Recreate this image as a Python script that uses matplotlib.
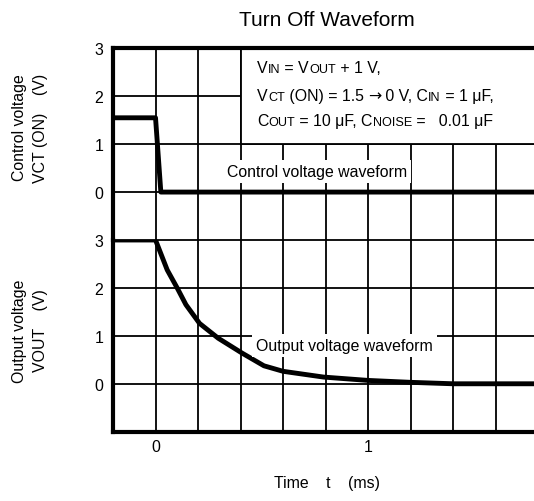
import numpy as np
import matplotlib
matplotlib.use('Agg')
import matplotlib.pyplot as plt
from matplotlib.patches import Rectangle
from matplotlib.offsetbox import TextArea, HPacker, AnnotationBbox

plt.rcParams['font.family'] = ['Liberation Sans', 'DejaVu Sans']

# control voltage step (ms, V)
ct_t = [-0.2, 0.0, 0.025, 2.0]
ct_v = [1.55, 1.55, 0.0, 0.0]

# output voltage discharge (ms, V)
vout_t = [-0.2, 0.0, 0.055, 0.103, 0.143, 0.207, 0.295, 0.407, 0.51, 0.6,
          0.79, 1.0, 1.2, 1.4, 2.0]
vout_v = [3.0, 3.0, 2.375, 1.99, 1.65, 1.26, 0.95, 0.64, 0.375, 0.26,
          0.14, 0.07, 0.03, 0.0, 0.0]

xgrid = [-0.2, 0.0, 0.2, 0.4, 0.6, 0.8, 1.0, 1.2, 1.4, 1.6]
xlabels = ['', '0', '', '', '', '', '1', '', '', '']
ygrid = [-1, 0, 1, 2, 3]
ylabels = ['', '0', '1', '2', '3']

# test conditions, pieces tagged: 'n' normal, 's' small subscript, 'a' arrow
cond_rows = [
    [('V', 'n'), ('IN', 's'), (' = V', 'n'), ('OUT', 's'), (' + 1 V,', 'n')],
    [('V', 'n'), ('CT', 's'), (' (ON) = 1.5 ', 'n'), ('→', 'a'), (' 0 V, C', 'n'),
     ('IN', 's'), (' = 1 μF,', 'n')],
    [('C', 'n'), ('OUT', 's'), (' = 10 μF, C', 'n'), ('NOISE', 's'),
     (' =   0.01 μF', 'n')],
]
cond_y = [2.6, 2.02, 1.5]

fs = 11.4
W, H = 534, 502
left = 113 / W
ytop, ymid, ybot = 1 - 49.3 / H, 1 - 241 / H, 1 - 432.7 / H

fig = plt.figure(figsize=(W / 100, H / 100), dpi=100)
ax1 = fig.add_axes([left, ymid, 1 - left, ytop - ymid])
ax2 = fig.add_axes([left, ybot, 1 - left, ymid - ybot])

for ax in (ax1, ax2):
    ax.set_xlim(-0.2, 1.78)
    ax.set_ylim(-1, 3)
    ax.set_axisbelow(True)
    ax.grid(True, color='black', linewidth=1.3)
    ax.set_xticks(xgrid)
    ax.set_yticks(ygrid)
    ax.set_yticklabels(ylabels, fontsize=fs)
    ax.tick_params(length=0, pad=7)
    ax.spines['right'].set_visible(False)
    for s in ('left', 'top', 'bottom'):
        ax.spines[s].set_linewidth(3)

ax1.set_xticklabels([''] * len(xgrid))
ax1.spines['bottom'].set_visible(False)
ax2.spines['top'].set_visible(False)
ax2.set_xticklabels(xlabels, fontsize=fs)
ax2.tick_params(axis='x', pad=5)

ax1.plot(ct_t, ct_v, color='black', linewidth=3.5, zorder=3)
ax2.plot(vout_t, vout_v, color='black', linewidth=3.5, zorder=3)

# conditions box in the upper right
ax1.add_patch(Rectangle((0.4, 1), 3, 3, facecolor='white', edgecolor='black',
                        linewidth=1.3, zorder=2))
styles = {'n': dict(fontsize=fs),
          's': dict(fontsize=fs * 0.8),
          'a': dict(fontsize=fs, family='DejaVu Sans')}
for yy, row in zip(cond_y, cond_rows):
    parts = [TextArea(t, textprops=styles[k]) for t, k in row]
    box = HPacker(children=parts, align='baseline', pad=0, sep=0)
    ab = AnnotationBbox(box, (0.479, yy), xycoords='data', box_alignment=(0, 0.5),
                        frameon=False, pad=0)
    ab.set_zorder(4)
    ax1.add_artist(ab)

ax1.text(0.76, 0.42, 'Control voltage waveform', fontsize=fs, ha='center',
         va='center', zorder=4,
         bbox=dict(boxstyle='square,pad=0.25', facecolor='white', edgecolor='none'))
ax2.text(0.89, 0.79, 'Output voltage waveform', fontsize=fs, ha='center',
         va='center', zorder=4,
         bbox=dict(boxstyle='square,pad=0.25', facecolor='white', edgecolor='none'))

fig.text(327 / W, 1 - 20 / H, 'Turn Off Waveform', fontsize=15, ha='center', va='center')
fig.text(327 / W, 1 - 484 / H, 'Time    t    (ms)', fontsize=fs, ha='center', va='center')
fig.text(30 / W, 1 - 128 / H, 'Control voltage\nVCT (ON)    (V)', fontsize=fs,
         rotation=90, ha='center', va='center', multialignment='center',
         linespacing=1.45)
fig.text(30 / W, 1 - 331 / H, 'Output voltage\nVOUT    (V)', fontsize=fs,
         rotation=90, ha='center', va='center', multialignment='center',
         linespacing=1.45)

fig.savefig('out.png', dpi=100)
